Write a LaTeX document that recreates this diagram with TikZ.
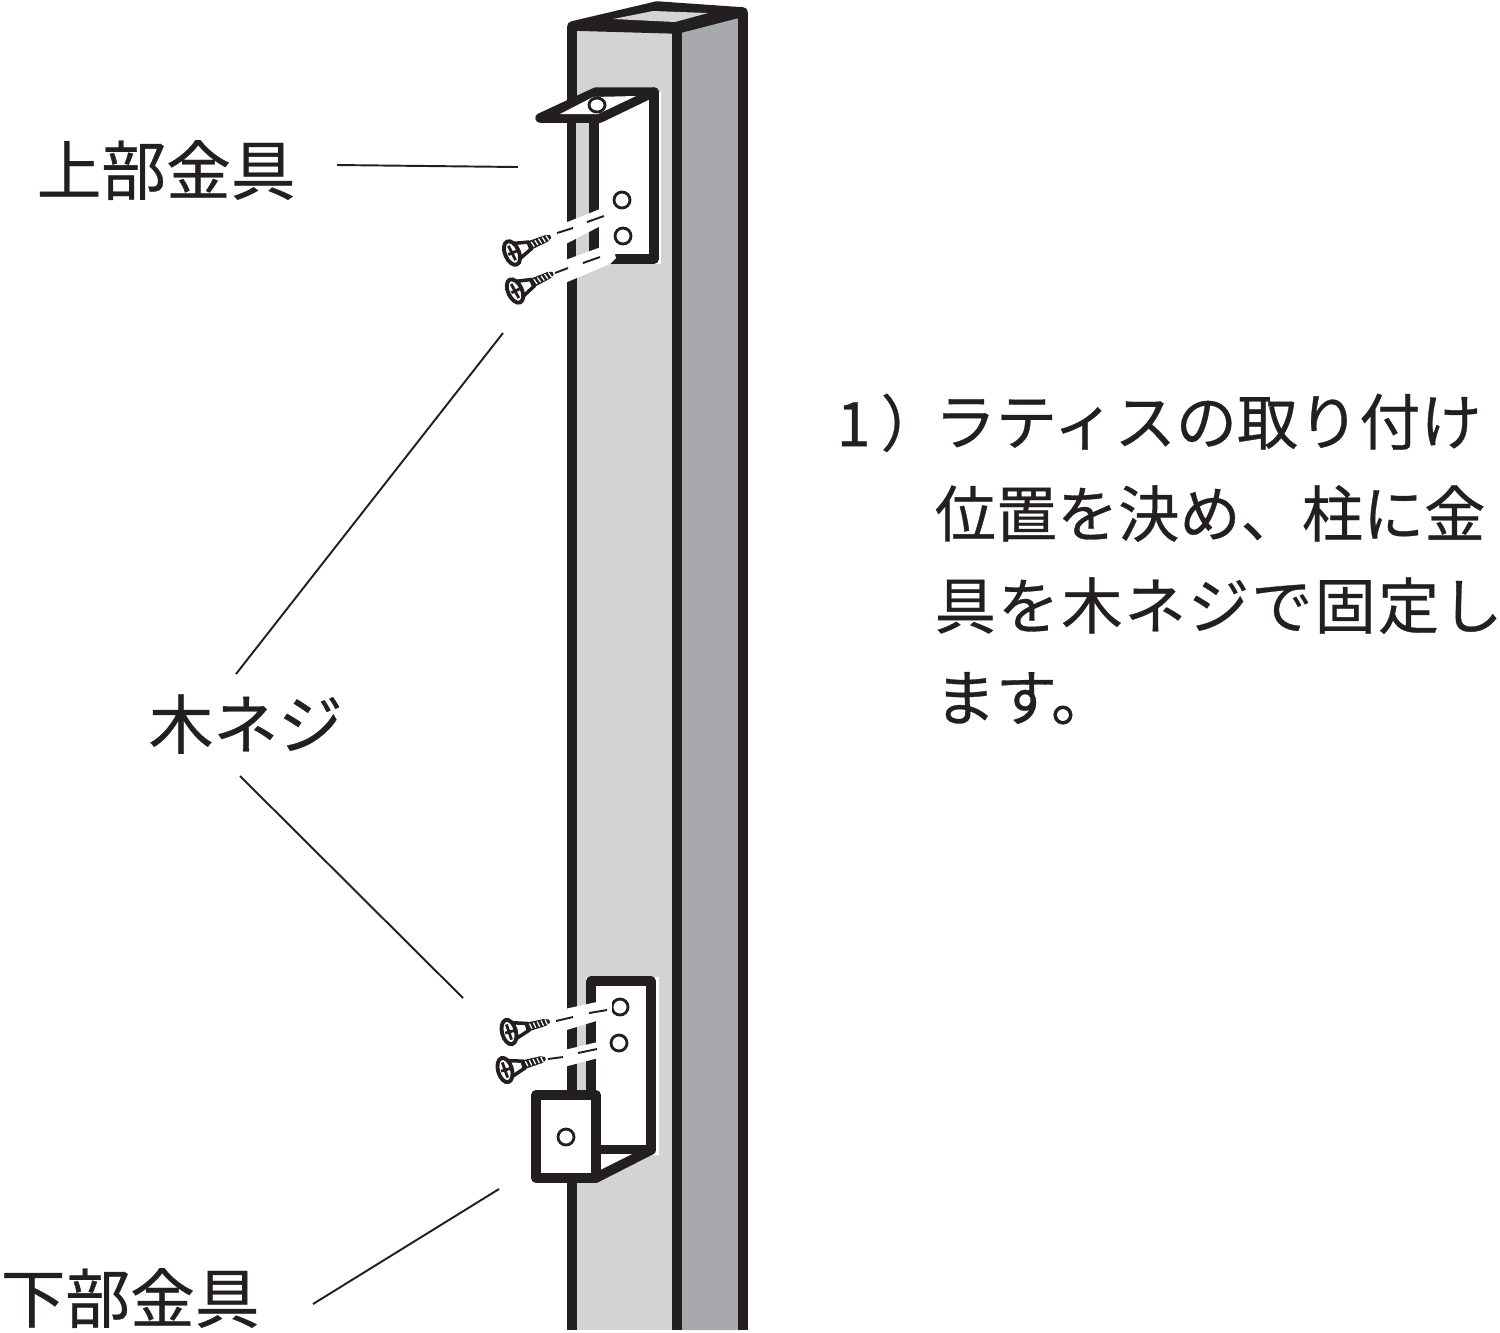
\documentclass[tikz,border=0pt]{standalone}
\usepackage{fontspec}
\usetikzlibrary{positioning}
\setmainfont{Noto Sans CJK JP}[FakeBold=.5]
\definecolor{postfront}{HTML}{D1D3D4}
\definecolor{postside}{HTML}{A7A9AC}
\definecolor{ink}{HTML}{231F20}
\tikzset{
	outline/.style={draw=ink,line width=2.7pt,line join=round,line cap=round},
	thinline/.style={draw=ink,line width=.55pt},
	hole/.style={draw=ink,line width=.8pt,fill=white},
	gap/.style={fill=white,draw=none},
	callout/.style={text=ink,font=\fontsize{18.4}{22}\selectfont,inner sep=0pt},
	steptext/.style={text=ink,font=\fontsize{17.4}{26.15}\selectfont,inner sep=0pt,align=left},
	screw/.pic={
		\fill[ink] (12,-5) -- (20,-4.5) -- (38,-3.5) -- (42,-1.5) -- (42,1.5) -- (38,3.5) -- (20,4.5) -- (12,5) -- cycle;
		\foreach \t in {22,26,...,38} \draw[white,line width=.35pt] (\t,-2.8) -- (\t+1,2.8);
		\draw[ink,line width=1pt,fill=white] (6,-8) -- (19,-3.8) -- (19,3.8) -- (6,8) -- cycle;
		\draw[ink,line width=1.1pt,fill=white] (0,0) ellipse (7 and 12.5);
		\draw[ink,line width=.8pt] (-4,0) -- (6,0) (-.5,-8) -- (.5,8);
	}
}
\begin{document}
\begin{tikzpicture}[x=.01cm,y=-.01cm]
	\useasboundingbox (0,0) rectangle (1500,1332);

	% post
	\fill[postfront] (572,27) rectangle (672,1330);
	\fill[postside] (677,29) -- (743,12) -- (743,1330) -- (677,1330) -- cycle;
	\filldraw[outline,fill=ink] (572,26) -- (657,6) -- (743,12) -- (677,29) -- cycle;
	\fill[postfront] (613,19) -- (653,11) -- (708,13) -- (675,22) -- cycle;
	\draw[outline,line cap=butt] (572,26) -- (572,1330);
	\draw[outline,line cap=butt] (677,29) -- (677,1330);
	\draw[outline,line cap=butt] (743,12) -- (743,1330);

	% upper bracket
	\fill[white] (590,92) rectangle (661,264);
	\fill[postfront] (576,122) rectangle (590,264);
	\draw[outline,fill=white] (594,118) -- (594,259) -- (654,259) -- (654,92);
	\filldraw[outline,fill=ink] (540,118) -- (600,118) -- (654,92) -- (596,92) -- cycle;
	\fill[white] (560,114) -- (598,114) -- (636,96) -- (593,97) -- cycle;
	\draw[hole] (597,105) ellipse (8 and 7);

	% lower bracket
	\fill[white] (586,977) rectangle (659,1155);
	\draw[outline,fill=white] (591,1150) -- (591,981) -- (651,981) -- (651,1150) -- cycle;
	\filldraw[outline,fill=ink] (596,1150) -- (651,1150) -- (596,1178) -- cycle;
	\fill[white] (600,1154) -- (632,1154) -- (600,1170) -- cycle;
	\draw[outline,fill=white] (536,1095) rectangle (596,1178);
	\draw[hole] (566,1137) circle (8);

	% white bands in front of the post
	\fill[gap] (560,225) -- (610,205) -- (612,220) -- (560,247) -- cycle;
	\fill[gap] (560,262) -- (612,243) -- (616,258) -- (610,264) -- (560,285) -- cycle;
	\fill[gap] (560,1010) -- (606,1000) -- (606,1018) -- (560,1032) -- cycle;
	\fill[gap] (560,1051) -- (606,1040) -- (606,1056) -- (560,1068) -- cycle;

	% holes
	\draw[hole] (622,200) circle (8);
	\draw[hole] (623,236) circle (8);
	\draw[hole] (620,1007) circle (8);
	\draw[hole] (619,1043) circle (8);
	\fill[white] (605,1000) rectangle (612,1014);

	% dashes from screws to holes
	\foreach \xa/\ya/\xb/\yb in {557/233/573/228,587/222/604/216,555/273/568/268,583/263/600/257,556/1021/573/1017,589/1013/607/1010,548/1059/563/1057,578/1053/597/1049}
		\draw[thinline] (\xa,\ya) -- (\xb,\yb);

	% screws
	\pic[rotate=23] at (512,253) {screw};
	\pic[rotate=25] at (515,291) {screw};
	\pic[rotate=15] at (509,1032) {screw};
	\pic[rotate=16] at (505,1070) {screw};

	% labels
	\node[callout,anchor=west] (upper) at (36,170) {上部金具};
	\node[callout,anchor=west] (screws) at (148,724) {木ネジ};
	\node[callout,anchor=west] (lower) at (0,1298) {下部金具};
	\node[steptext,anchor=north west] (stepno) at (836,393) {1\hspace{.1cm}）};
	\node[steptext,anchor=north west] (steptext) at (934,393) {ラティスの取り付け\\位置を決め、柱に金\\{\addfontfeature{LetterSpace=3.5}具を木ネジで固定し}\\ます。};

	% leader lines
	\coordinate (upperend) at (518,167);
	\coordinate (screwstop) at (503,333);
	\coordinate (screwsbottom) at (463,998);
	\coordinate (lowerend) at (499,1189);
	\coordinate (upperstart) at (337,165);
	\coordinate (screwsa) at (236,674);
	\coordinate (screwsb) at (240,776);
	\coordinate (lowerstart) at (313,1304);
	\draw[thinline] (upperstart) -- (upperend);
	\draw[thinline] (screwsa) -- (screwstop);
	\draw[thinline] (screwsb) -- (screwsbottom);
	\draw[thinline] (lowerstart) -- (lowerend);
\end{tikzpicture}
\end{document}
